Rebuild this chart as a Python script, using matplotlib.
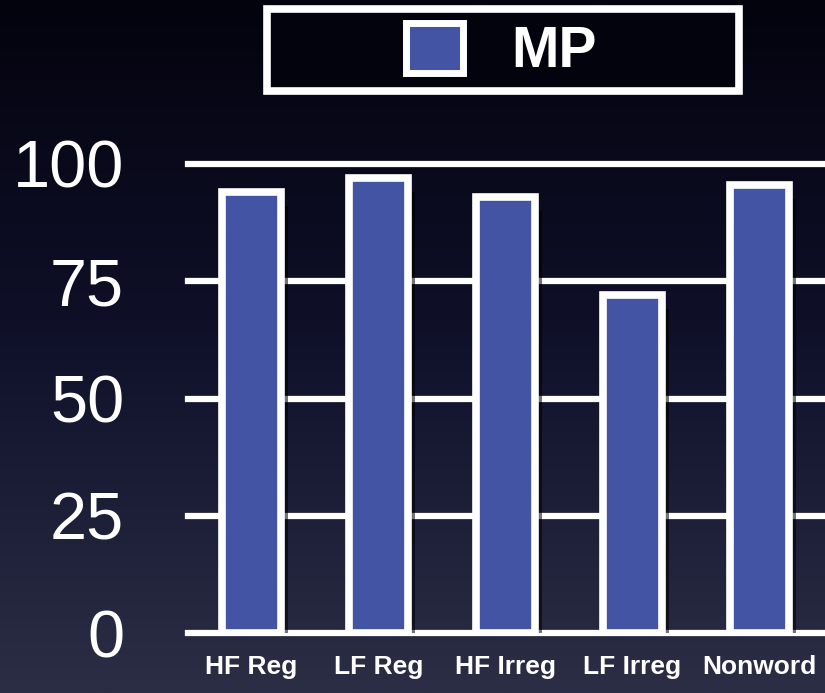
import numpy as np
import matplotlib
matplotlib.use("Agg")
from matplotlib import pyplot as plt
from matplotlib.colors import LinearSegmentedColormap
from matplotlib.patches import Rectangle, Patch

categories = ["HF Reg", "LF Reg", "HF Irreg", "LF Irreg", "Nonword"]
mp = [94, 97, 93, 72, 95.5]
yticks = [0, 25, 50, 75, 100]
series_label = "MP"

plt.rcParams['font.family'] = ['Liberation Sans', 'DejaVu Sans']

fig = plt.figure(figsize=(8.25, 6.93), dpi=100)

# background gradient, black at top to dark slate at bottom
bg = fig.add_axes([0, 0, 1, 1], zorder=0)
cmap = LinearSegmentedColormap.from_list("bg", ["#03030e", "#10112a", "#2c2e46"])
bg.imshow(np.linspace(0, 1, 256).reshape(-1, 1), aspect='auto', cmap=cmap,
          extent=[0, 1, 0, 1], origin='upper')
bg.axis('off')

ax = fig.add_axes([188 / 825, 1 - 633 / 693, 1 - 188 / 825, (633 - 164) / 693], zorder=1)
ax.set_facecolor('none')
x = np.arange(len(categories))
# soft shadow to the right of each bar
ax.bar(x + 0.265, np.array(mp) - 3, width=0.05, color='black', alpha=0.55,
       linewidth=0, zorder=2)
ax.bar(x, mp, width=0.465, color='#4254a3', edgecolor='white', linewidth=5.5, zorder=3)

ax.set_xlim(-0.5, 4.52)
ax.set_ylim(0, 100)
ax.set_yticks(yticks)
ax.set_xticks(x)
ax.set_xticklabels(categories, color='white', fontsize=19, fontweight='bold')
ax.set_yticklabels([str(v) for v in yticks], color='white', fontsize=48)
ax.tick_params(axis='y', length=0, pad=46)
ax.tick_params(axis='x', length=0, pad=16)
ax.yaxis.grid(True, color='white', linewidth=4.5, zorder=1)
ax.set_axisbelow(True)
for line in ax.get_ygridlines():
    line.set_clip_on(False)
for s in ax.spines.values():
    s.set_visible(False)

# legend box
fig.patches.append(Rectangle((267 / 825, 1 - 91 / 693), 472 / 825, 82 / 693,
                             transform=fig.transFigure, facecolor='#03030d',
                             edgecolor='white', linewidth=5.5, zorder=5))
handle = Patch(facecolor='#4254a3', edgecolor='white', linewidth=5)
leg = fig.legend([handle], [series_label], loc='center',
                 bbox_to_anchor=(501 / 825, 1 - 51 / 693), frameon=False,
                 prop={'size': 41, 'weight': 'bold'}, handlelength=1.0, handleheight=1.0,
                 handletextpad=0.85, labelcolor='white')
leg.set_zorder(6)

fig.savefig('out.png', dpi=100)
